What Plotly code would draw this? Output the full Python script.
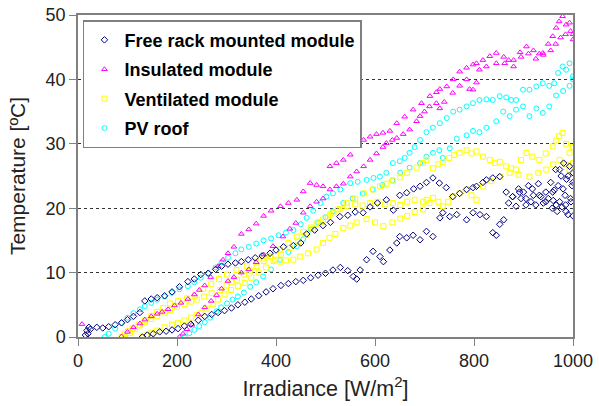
import plotly.graph_objects as go

# ---------------- data ----------------
# Free rack mounted module: three day-tracks
free_a_x = [15, 18, 20, 22, 25, 38, 50, 62, 75, 88, 100, 112, 125, 135, 148, 160, 175, 190, 205, 222,
            235, 248, 263, 278, 290, 303, 318, 330, 344, 358, 372, 388, 400, 415, 435, 450, 462, 478, 495, 510,
            529, 545, 560, 576, 590, 605, 623, 637, 650, 664, 678, 691, 704, 717, 730, 744, 757, 771, 785, 798,
            805, 818, 825, 838, 852, 865, 878, 892, 905, 918, 932, 945, 959, 966, 973, 980, 986, 990, 995, 1000]
free_a_y = [0.3, 1.0, 0.5, 1.5, 1.2, 1.5, 1.4, 1.6, 1.9, 2.2, 2.7, 3.2, 3.8, 5.6, 5.9, 6.1, 6.4, 7.0, 7.8, 8.6,
            9.0, 9.7, 9.9, 10.5, 11.0, 11.3, 11.5, 11.7, 12.0, 12.3, 12.6, 13.0, 13.5, 14.0, 14.2, 14.6, 16.0, 16.6, 17.3, 17.8,
            18.7, 18.9, 19.4, 19.3, 20.2, 20.8, 21.3, 19.7, 22.0, 22.4, 23.0, 23.4, 24.0, 24.7, 23.9, 23.2, 21.8, 22.3, 22.9, 23.2,
            23.4, 24.0, 24.4, 24.7, 24.9, 22.5, 21.8, 22.5, 21.5, 23.0, 22.0, 21.0, 22.5, 20.5, 26.0, 23.0, 19.5, 25.0, 21.5, 24.0]
free_b_x = [130, 140, 152, 165, 178, 190, 202, 215, 228, 243, 256, 270, 283, 296, 310, 323, 337, 350, 365, 380,
            394, 410, 425, 440, 455, 470, 485, 500, 515, 530, 545, 556, 563, 570, 583, 596, 610, 617, 630, 644,
            650, 664, 677, 691, 704, 717, 731, 737, 751, 765, 785, 798, 812, 825, 838, 845, 852, 860]
free_b_y = [0.0, 0.3, 0.5, 0.8, 0.9, 1.1, 1.3, 1.7, 2.0, 2.6, 3.2, 3.5, 3.8, 4.1, 4.5, 5.0, 5.4, 5.9, 6.4, 7.0,
            7.5, 8.0, 8.3, 8.6, 8.8, 9.2, 9.6, 9.9, 10.4, 10.8, 10.3, 9.4, 9.0, 10.4, 12.0, 13.3, 12.5, 11.7, 13.5, 14.6,
            15.6, 15.4, 15.8, 15.1, 16.4, 15.6, 18.5, 19.3, 18.7, 19.0, 18.2, 19.3, 19.0, 18.7, 16.2, 15.8, 17.5, 18.2]
free_c_x = [870, 878, 885, 890, 895, 900, 905, 910, 915, 920, 925, 930, 935, 940, 945, 950, 955, 958,
            962, 965, 968, 970, 973, 976, 978, 981, 984, 987, 990, 993, 996, 998, 1000, 1000, 985, 960]
free_c_y = [20.8, 21.8, 20.3, 23.0, 21.5, 22.5, 20.5, 23.5, 21.0, 22.0, 20.5, 23.8, 21.8, 20.8, 22.5, 21.5, 24.0, 20.0,
            22.8, 26.0, 19.5, 23.5, 21.0, 25.0, 20.2, 27.0, 22.0, 24.5, 19.0, 26.5, 21.0, 23.5, 18.8, 25.5, 20.5, 21.2]

# Insulated module: two day-tracks plus a lone early point
ins_a_x = [8, 88, 100, 112, 125, 135, 148, 160, 170, 182, 195, 208, 222, 235, 245, 256, 268, 283, 293, 303,
           315, 330, 345, 360, 375, 390, 409, 425, 442, 455, 469, 482, 495, 509, 522, 536, 550, 563, 577, 590,
           603, 616, 630, 644, 660, 677, 694, 711, 724, 731, 745, 758, 771, 785, 798, 805, 818, 832, 845, 860,
           870, 880, 893, 906, 920, 932, 939, 950, 959, 966, 972, 979, 986, 993, 1000]
ins_a_y = [2.0, 0.1, 0.8, 1.5, 2.1, 2.7, 3.2, 3.6, 3.9, 4.3, 4.9, 5.3, 5.9, 6.6, 7.3, 8.0, 9.3, 11.0, 12.0, 13.0,
           14.0, 16.0, 16.7, 17.6, 18.8, 19.6, 20.3, 20.8, 21.3, 22.6, 23.9, 23.6, 23.4, 26.5, 27.0, 27.5, 28.3, 30.1, 30.6, 31.1,
           31.5, 31.7, 32.0, 33.2, 34.2, 35.3, 36.3, 37.4, 38.0, 38.5, 38.9, 40.0, 41.2, 41.8, 42.3, 42.5, 43.0, 43.6, 44.1, 43.5,
           43.0, 43.0, 44.2, 45.1, 44.5, 44.0, 44.1, 45.5, 46.7, 48.0, 49.0, 49.8, 48.5, 48.8, 46.2]
ins_b_x = [205, 212, 220, 230, 243, 256, 269, 280, 290, 303, 315, 330, 345, 360, 375, 394, 414, 428, 440, 455,
           469, 482, 495, 509, 522, 536, 550, 563, 577, 590, 603, 616, 623, 635, 644, 657, 670, 684, 691, 700,
           710, 724, 731, 740, 757, 771, 785, 791, 798, 805, 811, 825, 845, 862, 880, 895, 910, 925, 940, 955,
           965, 975, 985, 995, 1000]
ins_b_y = [0.0, 0.5, 1.2, 1.9, 3.5, 4.6, 5.6, 6.5, 7.5, 8.7, 9.3, 10.0, 10.5, 11.6, 12.8, 14.1, 15.6, 16.8, 17.7, 19.3,
           20.3, 21.0, 21.5, 22.9, 23.4, 23.8, 24.9, 25.7, 26.5, 27.5, 28.5, 29.5, 30.1, 30.6, 30.9, 31.5, 32.2, 33.5, 34.3, 35.0,
           35.8, 36.3, 35.5, 36.5, 37.9, 39.0, 40.0, 38.5, 38.4, 39.5, 41.5, 42.0, 42.5, 42.5, 42.0, 43.5, 44.0, 43.2, 43.8, 44.5,
           45.5, 46.5, 47.0, 47.5, 47.0]

# Ventilated module: three day-tracks
ven_a_x = [95, 105, 115, 125, 135, 148, 160, 175, 186, 200, 215, 228, 240, 255, 270, 287, 300, 310, 321, 335,
           348, 361, 375, 390, 408, 425, 442, 455, 470, 482, 495, 510, 525, 543, 560, 578, 596, 610, 623, 636,
           651, 665, 684, 697, 704, 717, 728, 737, 750, 760, 771, 785, 795, 805, 818, 832, 842, 852, 865, 875,
           885, 895, 906, 918, 932, 945, 959, 966, 972, 979, 986, 993, 1000]
ven_a_y = [0.0, 0.6, 1.2, 1.8, 2.3, 2.8, 3.3, 3.8, 4.2, 4.7, 5.1, 5.5, 5.8, 6.3, 6.8, 7.3, 8.0, 8.5, 8.9, 9.7,
           10.3, 11.0, 11.8, 12.6, 13.6, 14.6, 15.6, 16.3, 17.0, 17.6, 18.2, 19.0, 19.8, 20.8, 21.5, 22.3, 22.9, 23.4, 23.8, 24.3,
           24.8, 25.5, 26.3, 27.0, 27.5, 26.2, 26.8, 27.2, 27.8, 28.3, 28.6, 29.0, 28.5, 28.8, 28.0, 27.5, 27.0, 27.2, 26.5, 26.2,
           26.0, 27.5, 28.6, 28.0, 27.5, 28.5, 29.6, 30.5, 31.2, 31.7, 30.0, 28.6, 29.5]
ven_b_x = [88, 95, 101, 110, 122, 135, 148, 160, 172, 186, 202, 220, 236, 253, 269, 285, 301, 320, 341, 360,
           375, 388, 398, 408, 420, 435, 449, 465, 482, 495, 508, 520, 536, 550, 563, 583, 600, 617, 635, 651,
           665, 680, 697, 710, 717, 728, 737, 748, 757, 771, 785, 795, 805, 818, 835, 852, 872, 890, 912, 930,
           946, 960, 973, 985, 993, 1000]
ven_b_y = [0.0, 0.5, 0.9, 1.3, 1.9, 2.6, 3.3, 3.9, 4.5, 5.2, 5.6, 6.0, 6.4, 7.5, 8.2, 9.0, 9.7, 10.4, 11.0, 11.7,
           12.2, 12.5, 12.0, 11.7, 11.9, 12.0, 12.5, 13.0, 13.6, 14.6, 15.4, 16.0, 16.9, 17.3, 17.8, 18.3, 17.8, 17.2, 17.8, 18.4,
           18.8, 19.4, 19.8, 20.8, 21.6, 21.0, 20.3, 21.0, 21.8, 22.3, 22.9, 22.0, 21.3, 23.4, 24.2, 24.9, 25.5, 25.2, 24.9, 25.5,
           26.0, 26.8, 27.5, 26.8, 26.0, 27.0]
ven_c_x = [130, 140, 148, 160, 175, 190, 202, 215, 228, 240, 249, 260, 272, 283, 296, 309, 323, 337, 350, 365,
           380, 395, 410, 428, 445, 460, 475, 490, 505, 516, 530, 543, 560, 575, 590, 605, 620, 636, 651, 665,
           680, 697, 704]
ven_c_y = [0.0, 0.3, 0.6, 1.0, 1.5, 1.9, 2.2, 2.6, 3.0, 3.4, 3.7, 4.4, 5.1, 5.8, 6.6, 7.3, 7.9, 8.4, 9.2, 10.0,
           10.8, 11.8, 12.8, 13.8, 14.8, 15.8, 16.8, 17.8, 18.7, 19.3, 19.9, 20.3, 20.6, 20.4, 20.8, 21.0, 20.6, 20.8, 20.5, 21.0,
           21.3, 21.0, 21.3]

# PV roof: two day-tracks
pv_a_x = [54, 62, 75, 88, 100, 112, 125, 135, 148, 160, 175, 190, 205, 222, 235, 248, 263, 278, 290, 303,
          318, 330, 345, 360, 375, 390, 405, 420, 435, 450, 462, 475, 490, 502, 515, 530, 550, 565, 583, 597,
          610, 623, 636, 650, 660, 670, 680, 691, 704, 717, 731, 745, 758, 771, 785, 798, 811, 825, 838, 852,
          865, 875, 885, 899, 912, 926, 939, 952, 962, 970, 979, 986, 993, 1000]
pv_a_y = [0.0, 0.5, 1.3, 2.2, 3.0, 3.7, 4.3, 4.8, 5.3, 5.8, 6.3, 6.9, 7.4, 7.9, 8.5, 9.2, 9.9, 10.8, 11.6, 12.3,
          13.0, 13.6, 14.0, 14.5, 15.0, 15.3, 15.8, 16.2, 16.6, 17.5, 18.5, 19.6, 20.8, 21.8, 22.3, 22.9, 23.9, 24.1, 24.4, 24.7,
          24.9, 25.5, 27.0, 27.3, 27.8, 28.6, 29.5, 30.6, 31.8, 32.5, 33.2, 34.0, 35.0, 35.3, 35.8, 36.3, 36.8, 36.9, 36.8, 37.4,
          37.2, 36.8, 36.8, 38.4, 38.4, 38.9, 39.4, 39.0, 39.4, 41.0, 42.0, 41.5, 42.5, 40.5]
pv_b_x = [216, 225, 235, 245, 256, 267, 280, 289, 301, 312, 323, 335, 348, 360, 374, 390, 408, 425, 442, 455,
          470, 485, 500, 515, 536, 555, 575, 595, 615, 635, 651, 670, 691, 704, 717, 730, 737, 751, 765, 785,
          798, 811, 825, 845, 859, 872, 885, 899, 912, 926, 939, 952, 966, 980, 993, 1000]
pv_b_y = [0.0, 0.6, 1.1, 1.7, 2.3, 3.0, 4.0, 4.6, 5.2, 5.8, 6.3, 6.9, 7.8, 8.5, 9.4, 10.5, 12.0, 13.2, 14.1, 15.2,
          16.7, 17.8, 18.6, 19.5, 20.8, 21.5, 22.3, 22.9, 23.6, 24.3, 25.5, 26.3, 27.0, 28.0, 28.6, 29.0, 27.8, 29.3, 30.8, 31.3,
          32.0, 31.8, 32.5, 33.5, 35.0, 34.3, 35.3, 35.8, 34.3, 35.5, 34.8, 35.8, 37.5, 38.2, 39.0, 40.0]

x_ticks = [0, 200, 400, 600, 800, 1000]
y_ticks = [0, 10, 20, 30, 40, 50]

series = [
    # name, xs, ys, colour, symbol, legend rank
    ("PV roof", pv_a_x + pv_b_x, pv_a_y + pv_b_y, "#00FFFF", "circle-open", 4),
    ("Ventilated module", ven_a_x + ven_b_x + ven_c_x, ven_a_y + ven_b_y + ven_c_y, "#FFFF00", "square-open", 3),
    ("Insulated module", ins_a_x + ins_b_x, ins_a_y + ins_b_y, "#FF00FF", "triangle-up-open", 2),
    ("Free rack mounted module", free_a_x + free_b_x + free_c_x, free_a_y + free_b_y + free_c_y,
     "#000080", "diamond-open", 1),
]

FONT = "Liberation Sans, Arial, sans-serif"

fig = go.Figure()
for name, xs, ys, col, sym, rank in series:
    fig.add_trace(go.Scatter(
        x=xs, y=ys, mode="markers", name=name,
        legendgroup=name, legendrank=rank,
        marker=dict(symbol=sym, size=5, color=col, line=dict(width=1, color=col)),
    ))

fig.update_layout(
    width=599, height=406,
    margin=dict(l=78, r=26, t=15, b=69, autoexpand=False),
    paper_bgcolor="white", plot_bgcolor="white",
    font=dict(family=FONT, color="#222222"),
    showlegend=True,
    legend=dict(
        x=0.01, y=0.984, xanchor="left", yanchor="top",
        bgcolor="white", bordercolor="#7f7f7f", borderwidth=1.5,
        font=dict(family=FONT, size=18, color="#000000", weight="bold"),
        tracegroupgap=3, traceorder="grouped",
        itemwidth=30,
    ),
    xaxis=dict(
        range=[0, 1000], tickvals=x_ticks, ticks="outside", ticklen=7, tickcolor="#808080",
        tickfont=dict(size=18, color="#222222"), automargin=False,
        showgrid=False, zeroline=False,
        showline=True, linecolor="#808080", linewidth=1.5, mirror=True,
        title=dict(text="Irradiance [W/m<sup>2</sup>]", font=dict(size=21.5, color="#222222"), standoff=11),
    ),
    yaxis=dict(
        range=[0, 50], tickvals=y_ticks, ticks="outside", ticklen=7, tickcolor="#808080",
        tickfont=dict(size=18, color="#222222"), automargin=False,
        showgrid=True, gridcolor="#333333", griddash="dot", gridwidth=1,
        zeroline=False,
        showline=True, linecolor="#808080", linewidth=1.5, mirror=True,
        title=dict(text="Temperature [ºC]", font=dict(size=21, color="#222222"), standoff=14),
    ),
)

fig.write_html(
    "out.html",
    config={"displayModeBar": False},
    post_script="document.body.style.margin='0';document.body.style.overflow='hidden';",
)
